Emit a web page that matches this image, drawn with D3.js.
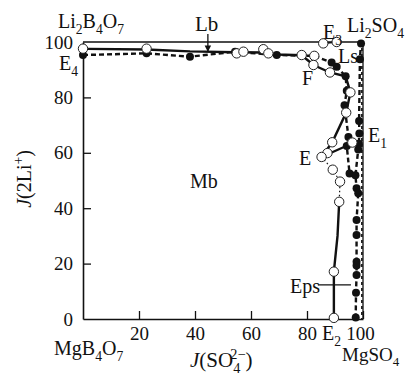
<!DOCTYPE html>
<html>
<head>
<meta charset="utf-8">
<script src="https://cdn.jsdelivr.net/npm/d3@7"></script>
<style>
  body { margin: 0; background: #fff; }
  text { font-family: "Liberation Serif", "Times New Roman", serif; fill: #111; }
</style>
</head>
<body>
<div id="chart"></div>
<script>
// Data, J(SO4 2-) vs J(2Li+)
var xTicks = [20, 40, 60, 80, 100];
var yTicks = [0, 20, 40, 60, 80, 100];

// hollow points
var openPoints = [
  [0, 97.6], [22.7, 97.6], [54.9, 95.9], [57.3, 96.5], [64.4, 97.4], [66.2, 95.9],
  [78.1, 95.3], [82.6, 95.0], [82.3, 91.7], [88.2, 89.0], [95.5, 81.8], [94.0, 74.5],
  [89.0, 63.8], [96.2, 63.7], [87.3, 59.9], [85.2, 58.5], [89.2, 53.9], [91.8, 49.6],
  [91.5, 42.3], [89.6, 17.1], [89.6, 0.4], [85.8, 99.5], [90.6, 100]
];

// filled points
var filledPoints = [
  [0, 95.3], [22.7, 95.9], [38.2, 94.7], [54.3, 96.5], [69.2, 95.3], [88.8, 92.6],
  [90.6, 91.1], [93.8, 87.6], [94.2, 82.4], [93.4, 77.2], [94.8, 65.7], [94.2, 62.5],
  [95.2, 52.5], [97.3, 51.9], [99.3, 99.5], [98.9, 93.8], [98.6, 71.5], [98.7, 67.0],
  [98.5, 63.3], [98.3, 61.2], [97.7, 47.2], [98.3, 45.4], [97.7, 35.7], [97.7, 30.3],
  [97.7, 20.7], [97.7, 19.3], [97.7, 15.9], [97.5, 9.5], [97.4, 0.5]
];

// solid curves
var lineLb = [[1.5, 97.5], [22.7, 97.3], [38.2, 96.6], [54.3, 96.3], [64.4, 96.2],
  [69.2, 95.5], [78.1, 95.2], [82.3, 91.7], [88.2, 89.0], [93.8, 87.6], [95.5, 81.8],
  [94.0, 74.5], [89.0, 63.8], [85.2, 58.5]];
var lineE1 = [[85.2, 58.5], [94.2, 62.5], [96.2, 63.7]];
var lineE2 = [[91.5, 42.3], [90.9, 30.0], [89.6, 17.1], [89.6, 0]];
var lineEdot = [[85.2, 58.5], [89.2, 53.9], [91.8, 49.6], [91.5, 42.3]];
var lineE3 = [[85.8, 99.5], [90.6, 100]];
var lineEps = [[83.9, 12.3], [95.7, 12.3]];

// dashed curves
var dashTop = [[0, 95.3], [22.7, 95.9], [38.2, 94.7], [54.3, 96.5], [69.2, 95.3],
  [82.6, 95.0], [88.8, 92.6], [90.6, 91.1], [93.8, 87.6], [94.2, 82.4], [93.4, 77.2],
  [94.8, 65.7], [94.2, 62.5], [95.2, 52.5], [97.3, 51.9]];
var dashRight = [[99.3, 100], [98.9, 93.8], [98.6, 71.5], [98.7, 67.0], [98.5, 63.3],
  [98.3, 61.2], [97.3, 51.9], [97.7, 47.2], [98.3, 45.4], [97.7, 35.7], [97.7, 30.3],
  [97.7, 20.7], [97.7, 15.9], [97.5, 9.5], [97.4, 0]];
var dashEdge = [[99.6, 100], [99.6, 0]];

var width = 407, height = 374;
var margin = {top: 42, right: 44, bottom: 55, left: 83};

var svg = d3.select("#chart").append("svg")
    .attr("width", width)
    .attr("height", height);

var x = d3.scaleLinear().domain([0, 100]).range([margin.left, width - margin.right]);
var y = d3.scaleLinear().domain([0, 100]).range([height - margin.bottom, margin.top]);

//Frame on top and right
svg.append("path")
    .attr("d", "M" + x(0) + "," + y(100) + "H" + x(100) + "V" + y(0))
    .attr("fill", "none")
    .attr("stroke", "#111")
    .attr("stroke-width", 1.3);

//Axes with inward ticks
var xAxis = svg.append("g")
    .attr("transform", "translate(0," + y(0) + ")")
    .call(d3.axisBottom(x).tickValues(xTicks).tickSizeInner(-8).tickSizeOuter(0).tickPadding(8));
var yAxis = svg.append("g")
    .attr("transform", "translate(" + x(0) + ",0)")
    .call(d3.axisLeft(y).tickValues(yTicks).tickSizeInner(-8).tickSizeOuter(0).tickPadding(10));

[xAxis, yAxis].forEach(function(g) {
    g.select(".domain").attr("stroke", "#111").attr("stroke-width", 1.6);
    g.selectAll(".tick line").attr("stroke", "#111").attr("stroke-width", 1.3);
    g.selectAll(".tick text")
        .style("font-family", "Liberation Serif, serif")
        .style("font-size", "19px")
        .attr("fill", "#111");
});
xAxis.selectAll(".tick").filter(function(d) { return d == 100; })
    .select("text").attr("dx", -3);
yAxis.selectAll(".tick").filter(function(d) { return d == 100 || d == 0; })
    .select("line").remove();

var line = d3.line().x(function(d) { return x(d[0]); }).y(function(d) { return y(d[1]); });

function drawLine(data, w, dash) {
    svg.append("path")
        .datum(data)
        .attr("d", line)
        .attr("fill", "none")
        .attr("stroke", "#111")
        .attr("stroke-width", w)
        .attr("stroke-dasharray", dash || null);
}

drawLine(dashTop, 2.4, "5,3");
drawLine(dashRight, 2.4, "5,3");
drawLine(dashEdge, 1.6, "3,3");
drawLine(lineLb, 2.4);
drawLine(lineE1, 2.2);
drawLine(lineE2, 2.4);
drawLine(lineEdot, 1.2, "1.5,2.5");
drawLine(lineE3, 1.5);
drawLine(lineEps, 1.3);

svg.append("g").selectAll("circle")
    .data(filledPoints)
    .enter().append("circle")
    .attr("cx", function(d) { return x(d[0]); })
    .attr("cy", function(d) { return y(d[1]); })
    .attr("r", 4)
    .attr("fill", "#111");

svg.append("g").selectAll("circle")
    .data(openPoints)
    .enter().append("circle")
    .attr("cx", function(d) { return x(d[0]); })
    .attr("cy", function(d) { return y(d[1]); })
    .attr("r", 4.7)
    .attr("fill", "#fff")
    .attr("stroke", "#222")
    .attr("stroke-width", 1);

//Arrow for Lb
svg.append("defs").append("marker")
    .attr("id", "head")
    .attr("viewBox", "0 0 10 10")
    .attr("refX", 9).attr("refY", 5)
    .attr("markerWidth", 5).attr("markerHeight", 6)
    .attr("orient", "auto")
    .append("path").attr("d", "M0,0L10,5L0,10z").attr("fill", "#111");
svg.append("line")
    .attr("x1", x(44.6)).attr("x2", x(44.6))
    .attr("y1", 34).attr("y2", y(96.3) - 1)
    .attr("stroke", "#111").attr("stroke-width", 1.3)
    .attr("marker-end", "url(#head)");

//Text with sub/superscripts. parts: [text, "n"|"it"|"sub"|"sup", dx]
function label(px, py, parts, anchor, size) {
    size = size || 20;
    var t = svg.append("text")
        .attr("x", px).attr("y", py)
        .attr("text-anchor", anchor || "start")
        .style("font-size", size + "px");
    var cur = 0;
    parts.forEach(function(p) {
        var off = p[1] == "sub" ? 0.28 * size : p[1] == "sup" ? -0.38 * size : 0;
        var s = t.append("tspan").attr("dy", off - cur).text(p[0]);
        if (p[1] == "sub" || p[1] == "sup") s.style("font-size", (size * 0.68) + "px");
        if (p[1] == "it") s.style("font-style", "italic");
        if (p[2]) s.attr("dx", p[2]);
        cur = off;
    });
    return t;
}

label(58, 28, [["Li", "n"], ["2", "sub"], ["B", "n"], ["4", "sub"], ["O", "n"], ["7", "sub"]]);
label(195, 31, [["Lb", "n"]], "start", 21);
label(323, 39, [["E", "n"], ["3", "sub"]]);
label(347, 32, [["Li", "n"], ["2", "sub"], ["SO", "n"], ["4", "sub"]]);
label(59, 70, [["E", "n"], ["4", "sub"]]);
label(338, 63, [["Ls", "n"]]);
label(302, 85, [["F", "n"]]);
label(368, 142, [["E", "n"], ["1", "sub"]]);
label(299, 165, [["E", "n"]]);
label(190, 188, [["Mb", "n"]]);
label(320, 293, [["Eps", "n"]], "end");
label(322, 340, [["E", "n"], ["2", "sub"]]);
label(54, 355, [["MgB", "n"], ["4", "sub"], ["O", "n"], ["7", "sub"]]);
label(342, 361, [["MgSO", "n"], ["4", "sub"]], "start", 19);
label(190, 367, [["J", "it"], ["(SO", "n"], ["4", "sub"], ["2\u2212", "sup", -10], [")", "n"]], "start", 21);

var yt = label(0, 0, [["J", "it"], ["(2Li", "n"], ["+", "sup"], [")", "n"]], "middle");
yt.attr("transform", "translate(31,179) rotate(-90)");
</script>
</body>
</html>
